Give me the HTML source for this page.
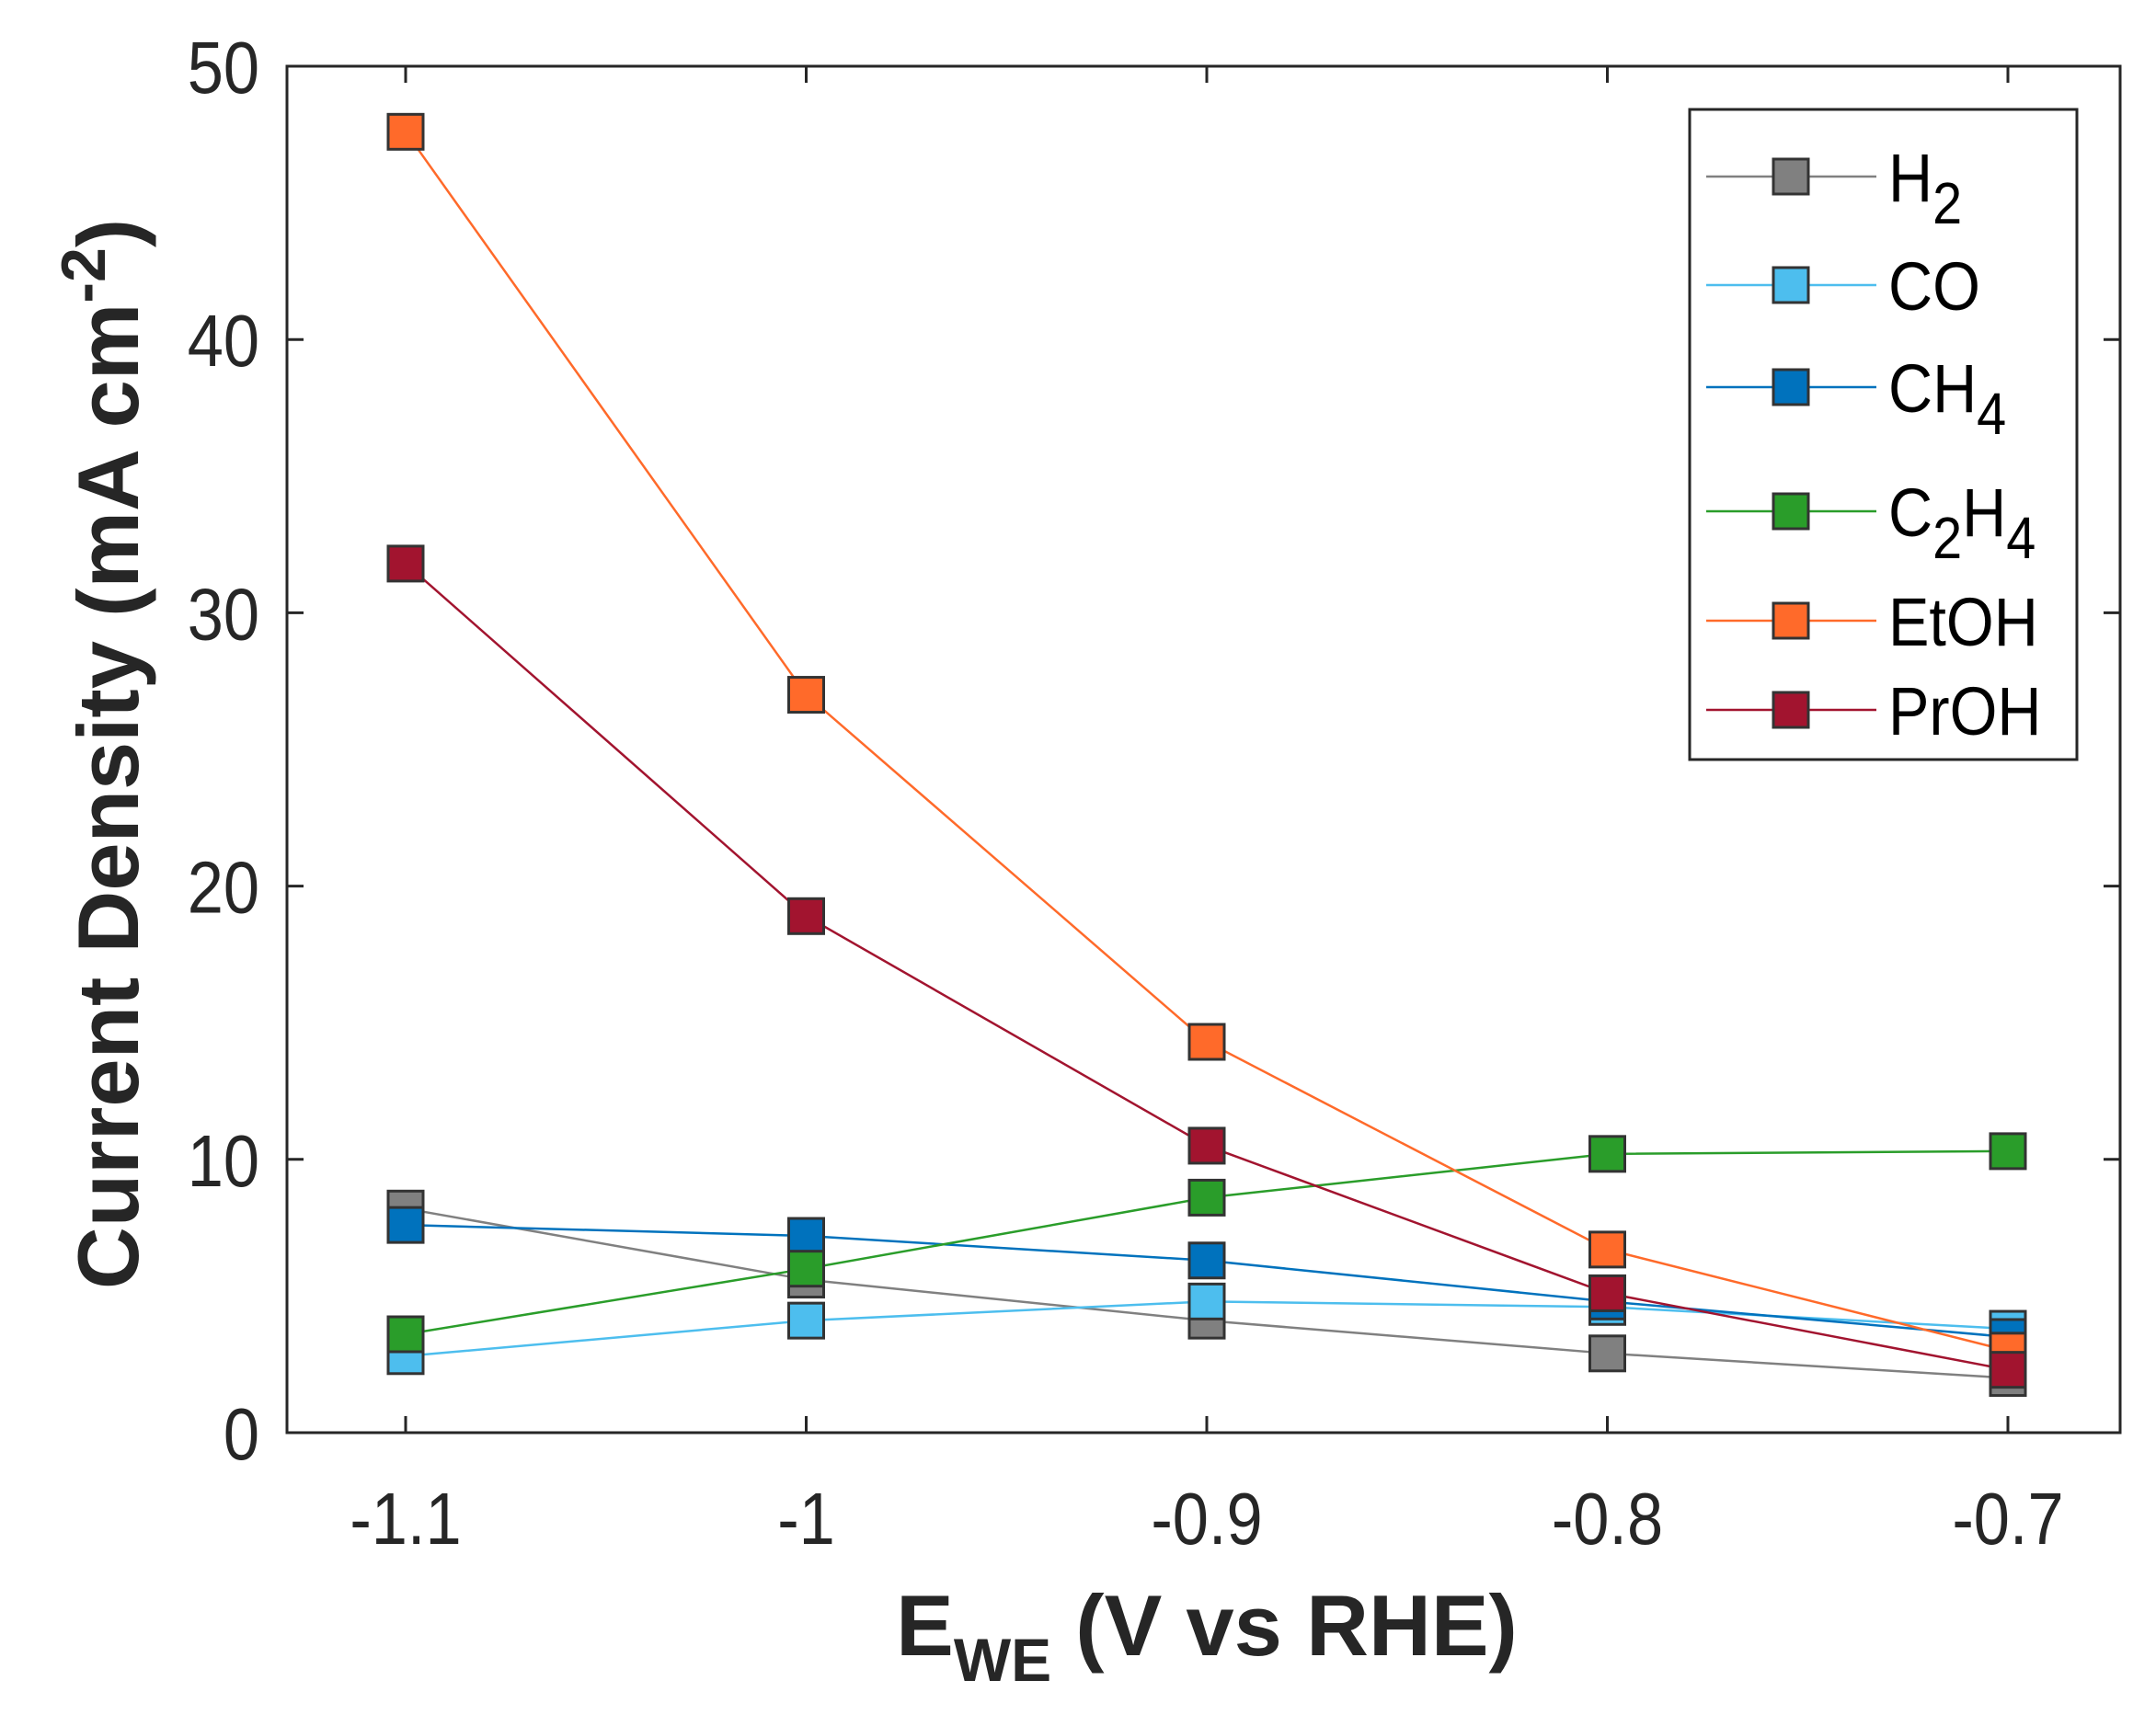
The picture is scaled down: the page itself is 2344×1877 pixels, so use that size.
<!DOCTYPE html>
<html><head><meta charset="utf-8"><style>
html,body{margin:0;padding:0;background:#fff;}
svg{display:block;}
.tk{font-family:"Liberation Sans Narrow","Liberation Sans",sans-serif;font-size:80px;fill:#262626;}
.lg{font-family:"Liberation Sans Narrow","Liberation Sans",sans-serif;font-size:74px;fill:#000;}
.al{font-family:"Liberation Sans",sans-serif;font-weight:bold;font-size:94px;fill:#262626;}
</style></head><body>
<svg id="chart" width="2344" height="1877" viewBox="0 0 2344 1877" xmlns="http://www.w3.org/2000/svg">
<rect x="312" y="72" width="1993" height="1486" fill="#fff" stroke="#262626" stroke-width="3"/>
<g id="ticks"></g>
<g id="series"></g>
<text class="al" x="1312" y="1800" text-anchor="middle">E<tspan font-size="66" dy="28">WE</tspan><tspan dy="-28"> (V vs RHE)</tspan></text>
<text class="al" font-size="96" transform="translate(150,820) rotate(-90)" text-anchor="middle">Current Density (mA cm<tspan font-size="68" dy="-36">-2</tspan><tspan dy="36">)</tspan></text>
<g id="legend"></g>
</svg>
<script>
const xVals=[-1.1,-1.0,-0.9,-0.8,-0.7];
const xTickLabels=["-1.1","-1","-0.9","-0.8","-0.7"];
const yTicks=[0,10,20,30,40,50];
const seriesNames=["H2","CO","CH4","C2H4","EtOH","PrOH"];
const h2=[8.2,5.6,4.1,2.9,2.0];
const co=[2.8,4.1,4.8,4.6,3.8];
const ch4=[7.6,7.2,6.3,4.8,3.5];
const c2h4=[3.6,6.0,8.6,10.2,10.3];
const etoh=[47.6,27.0,14.3,6.7,3.0];
const proh=[31.8,18.9,10.5,5.1,2.3];
const colors=["#808080","#4dbeee","#0072bd","#2a9d2a","#ff6a2a","#a2142f"];
const NS="http://www.w3.org/2000/svg";
const X=v=>441+(v+1.1)/0.1*435.5;
const Y=v=>1558-v*(1486/50);
function mk(t,a,p){const e=document.createElementNS(NS,t);for(const k in a)e.setAttribute(k,a[k]);p.appendChild(e);return e;}
const tg=document.getElementById('ticks');
xVals.forEach((v,i)=>{
  const x=X(v);
  const l1=mk('line',{x1:x,x2:x,y1:1558,y2:1540,stroke:'#262626','stroke-width':3},tg);
  
  
  const l2=mk('line',{x1:x,x2:x,y1:72,y2:90,stroke:'#262626','stroke-width':3},tg);
  
  
  const t=mk('text',{x:0,y:0,'text-anchor':'middle',class:'tk',transform:'translate('+x+',1679) scale(0.88,1)'},tg);
  t.textContent=xTickLabels[i];
  
  
});
yTicks.forEach(v=>{
  const y=Y(v);
  const l1=mk('line',{x1:312,x2:330,y1:y,y2:y,stroke:'#262626','stroke-width':3},tg);
  
  
  const l2=mk('line',{x1:2287,x2:2305,y1:y,y2:y,stroke:'#262626','stroke-width':3},tg);
  
  
  const t=mk('text',{x:0,y:0,'text-anchor':'end',class:'tk',transform:'translate(282,'+(y+29)+') scale(0.88,1)'},tg);
  t.textContent=String(v);
  
  
});
const data=[h2,co,ch4,c2h4,etoh,proh];
const sg=document.getElementById('series');
const M=38;
data.forEach((arr,si)=>{
  const g=mk('g',{},sg);
  
  
  const pts=arr.map((v,i)=>X(xVals[i])+','+Y(v)).join(' ');
  const pl=mk('polyline',{points:pts,fill:'none',stroke:colors[si],'stroke-width':2.5},g);
  
  
  arr.forEach((v,i)=>{
    const r=mk('rect',{x:X(xVals[i])-M/2,y:Y(v)-M/2,width:M,height:M,fill:colors[si],stroke:'#333','stroke-width':3},g);
    
    
  });
});
const lg=document.getElementById('legend');
const box=mk('rect',{x:1837,y:119,width:421,height:707,fill:'#fff',stroke:'#262626','stroke-width':3},lg);


const ly=[192,310,421,556,675,772];
const labels=['H<tspan font-size="64" dy="24">2</tspan>','CO','CH<tspan font-size="64" dy="24">4</tspan>','C<tspan font-size="64" dy="24">2</tspan><tspan dy="-24">H</tspan><tspan font-size="64" dy="24">4</tspan>','EtOH','PrOH'];
ly.forEach((y,i)=>{
  const g=mk('g',{},lg);
  
  
  mk('line',{x1:1855,x2:2040,y1:y,y2:y,stroke:colors[i],'stroke-width':2.5},g);
  mk('rect',{x:1947-M/2,y:y-M/2,width:M,height:M,fill:colors[i],stroke:'#333','stroke-width':3},g);
  const t=mk('text',{x:0,y:0,class:'lg',transform:'translate(2053,'+(y+27)+') scale(0.9,1)'},g);
  t.innerHTML=labels[i];
});
</script>
</body></html>
